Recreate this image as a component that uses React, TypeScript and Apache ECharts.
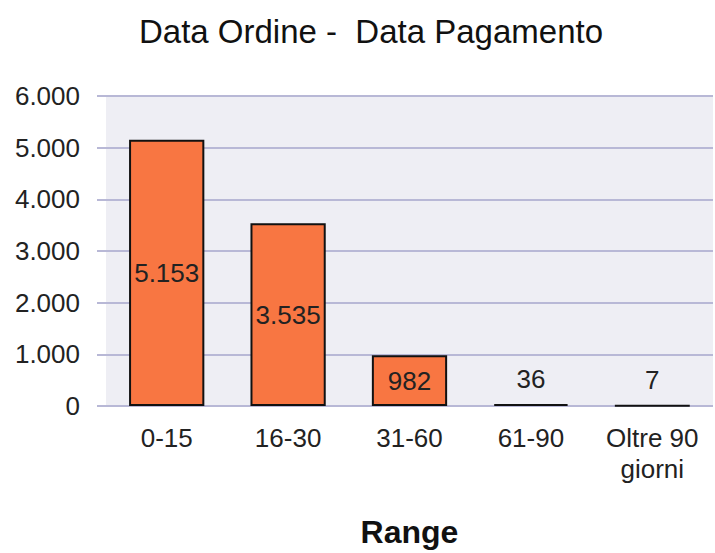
import React, { useEffect, useRef } from "react";
import * as echarts from "echarts";

const categories = ["0-15", "16-30", "31-60", "61-90", "Oltre 90\ngiorni"];
const values = [5153, 3535, 982, 36, 7];
const yTicks = [0, 1000, 2000, 3000, 4000, 5000, 6000];

const fmt = (v: number) => String(v).replace(/\B(?=(\d{3})+(?!\d))/g, ".");

export default function App() {
  const ref = useRef<HTMLDivElement>(null);
  useEffect(() => {
    const chart = echarts.init(ref.current!, null, { renderer: "svg" });
    const font = "'Liberation Sans', Arial, sans-serif";
    chart.setOption({
      animation: false,
      backgroundColor: "#ffffff",
      textStyle: { fontFamily: font },
      title: {
        text: "Data Ordine -  Data Pagamento",
        left: 366,
        textAlign: "center",
        top: 10,
        textStyle: { fontFamily: font, fontSize: 33, fontWeight: "normal", color: "#111" },
      },
      grid: {
        left: 106,
        right: 2,
        top: 96,
        bottom: 144,
        show: true,
        backgroundColor: "#EEEEF4",
        borderWidth: 0,
      },
      xAxis: {
        type: "category",
        data: categories,
        name: "Range",
        nameLocation: "middle",
        nameGap: 110,
        nameTextStyle: { fontFamily: font, fontSize: 32, fontWeight: "bold", color: "#111" },
        axisLine: { show: false },
        axisTick: { show: false },
        axisLabel: { fontFamily: font, fontSize: 26, color: "#222", margin: 16, lineHeight: 31 },
      },
      yAxis: {
        type: "value",
        min: yTicks[0],
        max: yTicks[yTicks.length - 1],
        interval: 1000,
        axisLine: { show: false },
        axisTick: { show: true, length: 9, lineStyle: { color: "#B8B8D6", width: 2 } },
        axisLabel: {
          fontFamily: font,
          fontSize: 26,
          color: "#222",
          margin: 26,
          formatter: (v: number) => fmt(v),
        },
        splitLine: { show: true, lineStyle: { color: "#B8B8D6", width: 2 } },
      },
      series: [
        {
          type: "bar",
          barWidth: "62%",
          data: values.map((v) => ({
            value: v,
            label:
              v > 500
                ? { show: true, position: "inside" }
                : { show: true, position: "top", distance: 12 },
          })),
          itemStyle: { color: "#F87642", borderColor: "#111", borderWidth: 2 },
          label: {
            fontFamily: font,
            fontSize: 26,
            color: "#222",
            formatter: (p: any) => fmt(p.value),
          },
        },
      ],
    });
    return () => chart.dispose();
  }, []);
  return (
    <div
      ref={ref}
      style={{ position: "fixed", left: 0, top: 0, width: 715, height: 553 }}
    />
  );
}
